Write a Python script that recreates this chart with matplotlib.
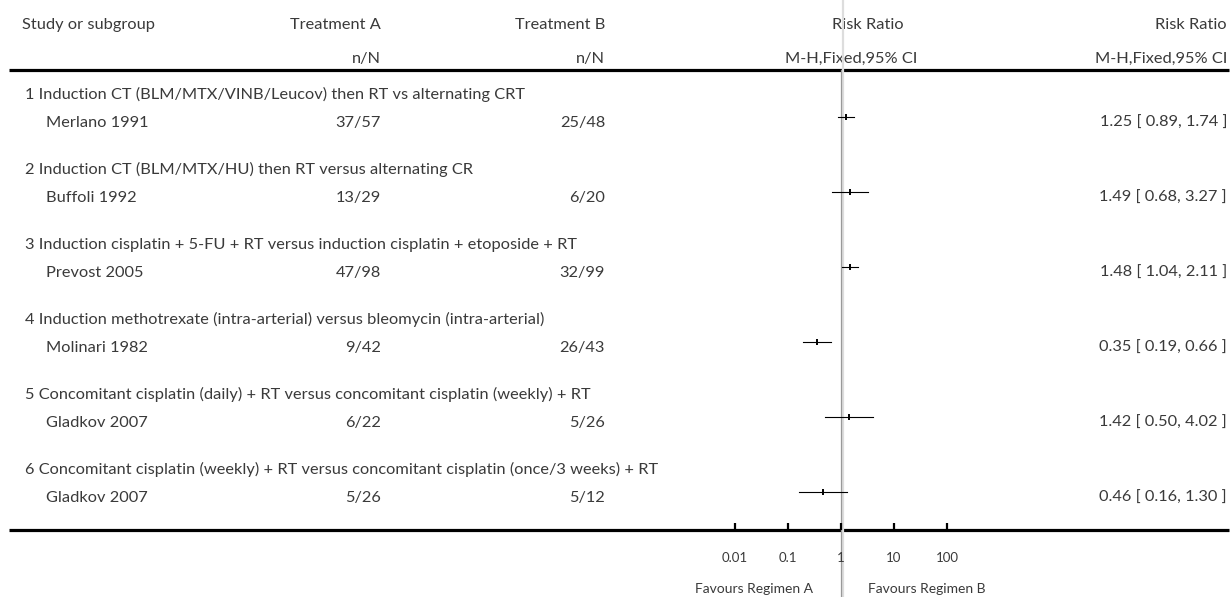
import matplotlib.pyplot as plt
from matplotlib import transforms

plt.rcParams['font.family'] = ['Lato', 'DejaVu Sans']

# table data
subgroups = [
    '1 Induction CT (BLM/MTX/VINB/Leucov) then RT vs alternating CRT',
    '2 Induction CT (BLM/MTX/HU) then RT versus alternating CR',
    '3 Induction cisplatin + 5-FU + RT versus induction cisplatin + etoposide + RT',
    '4 Induction methotrexate (intra-arterial) versus bleomycin (intra-arterial)',
    '5 Concomitant cisplatin (daily) + RT versus concomitant cisplatin (weekly) + RT',
    '6 Concomitant cisplatin (weekly) + RT versus concomitant cisplatin (once/3 weeks) + RT',
]
studies = ['Merlano 1991', 'Buffoli 1992', 'Prevost 2005', 'Molinari 1982', 'Gladkov 2007', 'Gladkov 2007']
treat_a = ['37/57', '13/29', '47/98', '9/42', '6/22', '5/26']
treat_b = ['25/48', '6/20', '32/99', '26/43', '5/26', '5/12']
rr = [1.25, 1.49, 1.48, 0.35, 1.42, 0.46]
ci_lo = [0.89, 0.68, 1.04, 0.19, 0.50, 0.16]
ci_hi = [1.74, 3.27, 2.11, 0.66, 4.02, 1.30]
ticks = [0.01, 0.1, 1, 10, 100]
tick_labels = ['0.01', '0.1', '1', '10', '100']

W, H = 1232, 597
TXT = '#3a3a3a'
FS = 11.8

fig = plt.figure(figsize=(W / 100, H / 100), dpi=100)

# background axes in pixel coordinates for the table text
bg = fig.add_axes([0, 0, 1, 1])
bg.set_xlim(0, W)
bg.set_ylim(H, 0)
bg.axis('off')

# forest axes: log scale, 1 sits at x=841, 53 px per decade
left_px, width_px = 841 - 3 * 53, 6 * 53
fx = fig.add_axes([left_px / W, 0, width_px / W, 1])
fx.set_xscale('log')
fx.set_xlim(1e-3, 1e3)
fx.set_ylim(H, 0)
fx.axis('off')


def txt(x, y, s, ha='left', size=FS):
    bg.text(x, y, s, ha=ha, va='baseline', fontsize=size, color=TXT)


# header
txt(22, 29, 'Study or subgroup')
txt(381, 29, 'Treatment A', 'right')
txt(381, 63, 'n/N', 'right')
txt(605, 29, 'Treatment B', 'right')
txt(605, 63, 'n/N', 'right')
txt(868, 29, 'Risk Ratio', 'center')
txt(851, 63, 'M-H,Fixed,95% CI', 'center')
txt(1227, 29, 'Risk Ratio', 'right')
txt(1227, 63, 'M-H,Fixed,95% CI', 'right')

# line of no effect (thin grey with a light shadow on the right)
shift = fx.transData + transforms.ScaledTranslation(2 / 100, 0, fig.dpi_scale_trans)
fx.plot([1, 1], [0, H], color='#dddddd', lw=1.6, zorder=1, transform=shift)
fx.plot([1, 1], [70, H], color='#999999', lw=0.9, zorder=2)

# horizontal rules
bg.plot([9, 1229], [70, 70], color='black', lw=2.3, solid_capstyle='butt')
bg.plot([9, 1229], [530, 530], color='black', lw=2.3, solid_capstyle='butt')

row0, step = 117, 75
for i in range(len(studies)):
    y = row0 + i * step
    txt(25, y - 18, subgroups[i])
    txt(46, y + 10, studies[i])
    txt(381, y + 10, treat_a[i], 'right')
    txt(605, y + 10, treat_b[i], 'right')
    txt(1227, y + 10, '%.2f [ %.2f, %.2f ]' % (rr[i], ci_lo[i], ci_hi[i]), 'right')
    fx.plot([ci_lo[i], ci_hi[i]], [y, y], color='black', lw=0.8, zorder=3)
    fx.plot([rr[i]], [y], marker='|', markersize=5, mew=1.4, color='black', zorder=4)

# axis ticks and labels
fx.vlines(ticks, 523, 530, color='black', lw=1.6)
for t, lab in zip(ticks, tick_labels):
    fx.text(t, 562, lab, ha='center', va='baseline', fontsize=9.5, color=TXT)
fx.text(10 ** (-0.53), 593, 'Favours Regimen A', ha='right', va='baseline', fontsize=10, color=TXT)
fx.text(10 ** 0.51, 593, 'Favours Regimen B', ha='left', va='baseline', fontsize=10, color=TXT)

fig.savefig('out.png', dpi=100)
